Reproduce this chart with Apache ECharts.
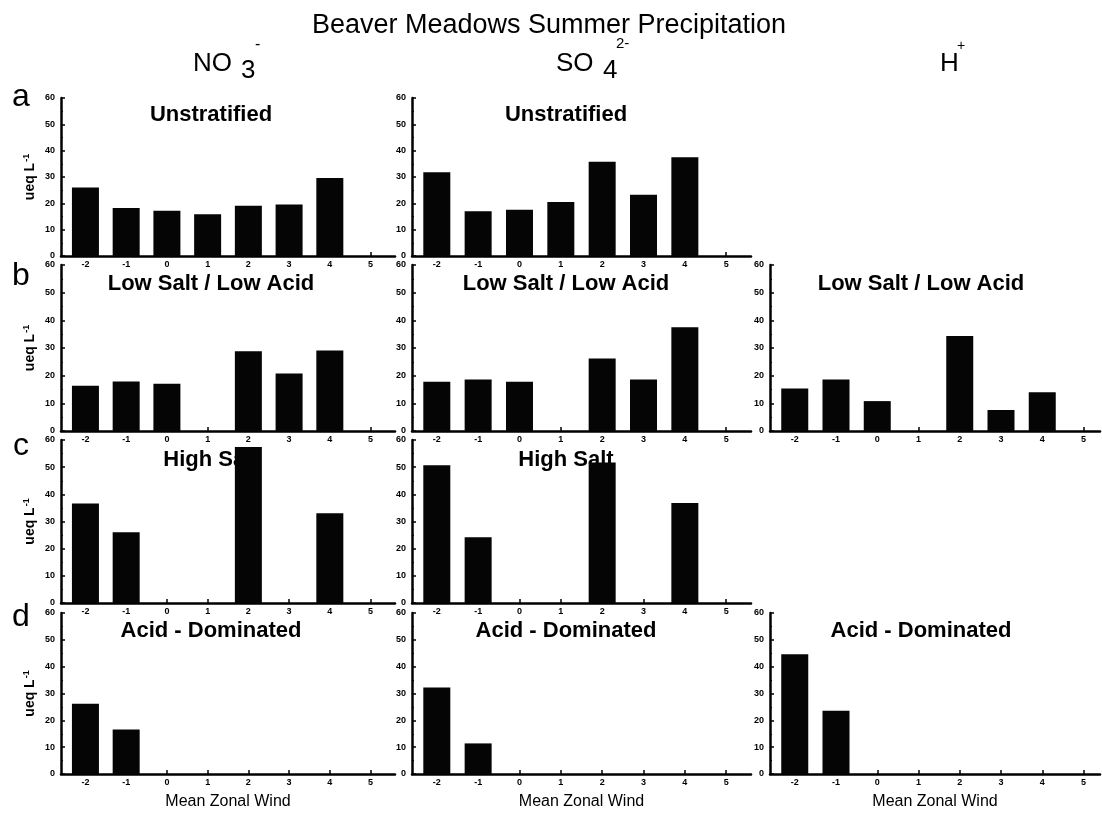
<!DOCTYPE html>
<html><head><meta charset="utf-8">
<script src="https://cdn.jsdelivr.net/npm/echarts@6/dist/echarts.min.js"></script>
<style>html,body{margin:0;padding:0;background:#fff}#c{width:1102px;height:814px}</style>
</head><body><div id="c"></div>
<script>
// ---- data ----
const categories = [-2, -1, 0, 1, 2, 3, 4, 5];
const tickLabels = ['-2', '-1', '0', '1', '2', '3', '4', '5'];
const yMin = 0, yMax = 60, yStep = 10;

const no3Unstratified = [26, 18.2, 17.2, 15.9, 19.1, 19.6, 29.6, null];
const so4Unstratified = [31.8, 17.0, 17.6, 20.5, 35.8, 23.3, 37.5, null];
const no3LowSalt = [16.4, 17.9, 17.1, null, 28.8, 20.8, 29.1, null];
const so4LowSalt = [17.8, 18.6, 17.8, null, 26.2, 18.6, 37.5, null];
const hLowSalt = [15.4, 18.6, 10.8, null, 34.3, 7.6, 14.0, null];
const no3HighSalt = [36.6, 26.0, null, null, 57.4, null, 33.0, null];
const so4HighSalt = [50.7, 24.2, null, null, 51.7, null, 36.8, null];
const no3AcidDom = [26.2, 16.6, null, null, null, null, null, null];
const so4AcidDom = [32.2, 11.4, null, null, null, null, null, null];
const hAcidDom = [44.6, 23.6, null, null, null, null, null, null];

const mainTitle = 'Beaver Meadows Summer Precipitation';
const rowLetters = ['a', 'b', 'c', 'd'];
const xName = 'Mean Zonal Wind';

// ---- layout ----
const FONT = '"Liberation Sans", Arial, Helvetica, sans-serif';
const cols = [
  {left: 61, width: 334, max: 5.6, titleX: 211},
  {left: 412, width: 339, max: 5.6, titleX: 566},
  {left: 770, width: 330, max: 5.4, titleX: 921}
];
const rows = [
  {top: 98, height: 158, titleY: 115, letterY: 97},
  {top: 265, height: 166, titleY: 284, letterY: 276},
  {top: 440, height: 163, titleY: 460, letterY: 446},
  {top: 613, height: 161, titleY: 631, letterY: 617}
];
const panels = [
  {r: 0, c: 0, title: 'Unstratified', data: no3Unstratified},
  {r: 0, c: 1, title: 'Unstratified', data: so4Unstratified},
  {r: 1, c: 0, title: 'Low Salt / Low Acid', data: no3LowSalt},
  {r: 1, c: 1, title: 'Low Salt / Low Acid', data: so4LowSalt},
  {r: 1, c: 2, title: 'Low Salt / Low Acid', data: hLowSalt},
  {r: 2, c: 0, title: 'High Salt', data: no3HighSalt},
  {r: 2, c: 1, title: 'High Salt', data: so4HighSalt},
  {r: 3, c: 0, title: 'Acid - Dominated', data: no3AcidDom},
  {r: 3, c: 1, title: 'Acid - Dominated', data: so4AcidDom},
  {r: 3, c: 2, title: 'Acid - Dominated', data: hAcidDom}
];

const grid = [], xAxis = [], yAxis = [], series = [], graphic = [];
panels.forEach((p, i) => {
  const col = cols[p.c], row = rows[p.r];
  grid.push({left: col.left, top: row.top, width: col.width, height: row.height, containLabel: false});
  xAxis.push({
    type: 'value', gridIndex: i, min: -2.6, max: col.max,
    name: p.r === 3 ? xName : '', nameLocation: 'middle', nameGap: 20,
    nameTextStyle: {fontFamily: FONT, fontSize: 16, color: '#000', verticalAlign: 'top'},
    axisLine: {show: true, onZero: false, lineStyle: {color: '#000', width: 2.5}},
    axisTick: {show: true, inside: true, length: 4, customValues: categories, lineStyle: {color: '#000', width: 1.5}},
    axisLabel: {show: true, customValues: categories, margin: 4,
      formatter: v => tickLabels[categories.indexOf(v)],
      fontFamily: FONT, fontSize: 9, fontWeight: 'bold', color: '#000'},
    splitLine: {show: false}
  });
  yAxis.push({
    type: 'value', gridIndex: i, min: yMin, max: yMax, interval: yStep,
    name: p.c === 0 ? '{m|ueq L}{s|-1}' : '', nameLocation: 'middle', nameGap: 22,
    nameTextStyle: {fontFamily: FONT, color: '#000',
      rich: {m: {fontFamily: FONT, fontSize: 14, fontWeight: 'bold', color: '#000'},
             s: {fontFamily: FONT, fontSize: 9, fontWeight: 'bold', color: '#000', verticalAlign: 'top', padding: [0, 0, 8, 1]}}},
    axisLine: {show: true, onZero: false, lineStyle: {color: '#000', width: 2.5}},
    axisTick: {show: true, inside: true, length: 4, lineStyle: {color: '#000', width: 1.5}},
    minorTick: {show: true, splitNumber: 2, length: 2, lineStyle: {color: '#000', width: 1.2}},
    axisLabel: {margin: 6, fontFamily: FONT, fontSize: 9, fontWeight: 'bold', color: '#000'},
    splitLine: {show: false}
  });
  series.push({
    type: 'bar', xAxisIndex: i, yAxisIndex: i, barWidth: 27, z: 3,
    itemStyle: {color: '#050505'},
    data: categories.map((c, k) => [c, p.data[k]]).filter(d => d[1] !== null)
  });
  graphic.push({type: 'text', z: 1, style: {text: p.title, x: col.titleX, y: row.titleY, align: 'center', verticalAlign: 'middle',
    font: 'bold 22px ' + FONT, fill: '#000'}});
});

rows.forEach((row, r) => {
  graphic.push({type: 'text', style: {text: rowLetters[r], x: 21, y: row.letterY, align: 'center', verticalAlign: 'middle',
    font: '32px ' + FONT, fill: '#000'}});
});

const txt = (t, x, y, size, align) => ({type: 'text', style: {text: t, x: x, y: y, align: align || 'left', verticalAlign: 'middle', font: size + 'px ' + FONT, fill: '#000'}});
graphic.push(txt(mainTitle, 549, 26, 27, 'center'));
graphic.push(txt('NO', 193, 64, 26));
graphic.push(txt('3', 241, 71, 26));
graphic.push(txt('-', 255, 45, 16));
graphic.push(txt('SO', 556, 64, 26));
graphic.push(txt('4', 603, 71, 26));
graphic.push(txt('2-', 616, 44, 15));
graphic.push(txt('H', 940, 64, 26));
graphic.push(txt('+', 957, 46, 14));

const chart = echarts.init(document.getElementById('c'), null, {renderer: 'canvas'});
chart.setOption({animation: false, backgroundColor: '#fff', grid, xAxis, yAxis, series, graphic});
</script></body></html>
